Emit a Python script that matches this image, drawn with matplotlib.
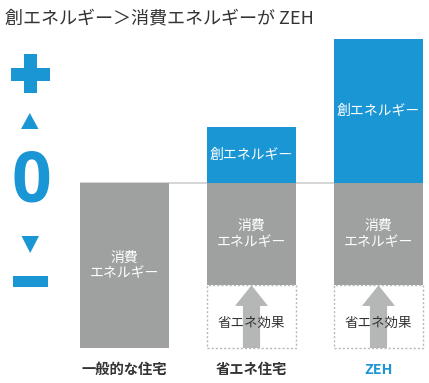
import numpy as np
import matplotlib.pyplot as plt
from matplotlib.patches import Rectangle, Polygon

plt.rcParams['font.family'] = ['Noto Sans CJK JP', 'DejaVu Sans']

# data (relative energy units, general house consumption = 100)
houses = ['一般的な住宅', '省エネ住宅', 'ZEH']
consumption = [100, 62, 62]
creation = [0, 34, 87]
saving = [0, 38, 38]
create_label = '創エネルギー'
consume_label = '消費\nエネルギー'
saving_label = '省エネ効果'
title = '創エネルギー＞消費エネルギーが ZEH'

blue = '#1b96d5'
gray = '#9fa0a0'
arrow_gray = '#b5b6b6'
dark = '#333333'

W, H = 429, 383
fig = plt.figure(figsize=(W / 100, H / 100), dpi=100)

# main axes: zero at pixel y=183, 1.65 px per unit
px_per_unit = 1.65
top_px, bot_px = 30, 360
zero_px = 183
ax = fig.add_axes([61 / W, (H - bot_px) / H, 381 / W, (bot_px - top_px) / H])
ax.set_xlim(-0.5, 2.5)
ax.set_ylim(-(bot_px - zero_px) / px_per_unit, (zero_px - top_px) / px_per_unit)
ax.axis('off')

x = np.arange(len(houses))
bw = 0.70
cons = np.array(consumption)
crea = np.array(creation)
sav = np.array(saving)

ax.hlines(0, -bw / 2, 2 + bw / 2, color='#cfcfcf', lw=1.2, zorder=1)
ax.bar(x, -cons, bw, bottom=0, color=gray, zorder=2)
ax.bar(x, crea, bw, bottom=0, color=blue, zorder=2)

for i in range(len(houses)):
    ax.text(x[i], -cons[i] / 2, consume_label, ha='center', va='center',
            color='white', fontsize=10, linespacing=1.2, zorder=4)
    if crea[i] > 0:
        ax.text(x[i], crea[i] / 2, create_label, ha='center', va='center',
                color='white', fontsize=10, zorder=4)
    if sav[i] > 0:
        y0 = -cons[i] - sav[i]
        ax.add_patch(Rectangle((x[i] - bw / 2, y0), bw, sav[i], fill=False,
                               ec='#b8b8b8', lw=1, ls=(0, (1.5, 1.5)), zorder=2))
        ax.arrow(x[i], y0, 0, sav[i], width=0.135, head_width=0.26,
                 head_length=12.5, length_includes_head=True, color=arrow_gray,
                 lw=0, zorder=3)
        ax.text(x[i], y0 + sav[i] * 0.4, saving_label, ha='center', va='center',
                color=dark, fontsize=9.7, zorder=4)

for i, name in enumerate(houses):
    c = blue if name == 'ZEH' else dark
    ax.text(x[i], -(370 - zero_px) / px_per_unit, name, ha='center',
            va='center', color=c, fontsize=10.3, fontweight='bold')

# overlay axes in pixel coordinates for title and the +/0/- scale
ov = fig.add_axes([0, 0, 1, 1])
ov.set_xlim(0, W)
ov.set_ylim(H, 0)
ov.axis('off')
ov.patch.set_alpha(0)

ov.text(5, 19, title, ha='left', va='center', color=dark, fontsize=13)

ov.add_patch(Rectangle((11, 67.5), 39, 13, color=blue, lw=0))
ov.add_patch(Rectangle((24, 54), 13, 39, color=blue, lw=0))
ov.add_patch(Polygon([(21, 129), (38.5, 129), (29.8, 113)], color=blue, lw=0))
ov.text(31, 184, '0', ha='center', va='center', color=blue, fontsize=50,
        fontweight='bold', family='Open Sans')
ov.add_patch(Polygon([(21.5, 236), (39, 236), (30.2, 253)], color=blue, lw=0))
ov.add_patch(Rectangle((13, 276), 35, 11, color=blue, lw=0))

fig.savefig('out.png', dpi=100)
